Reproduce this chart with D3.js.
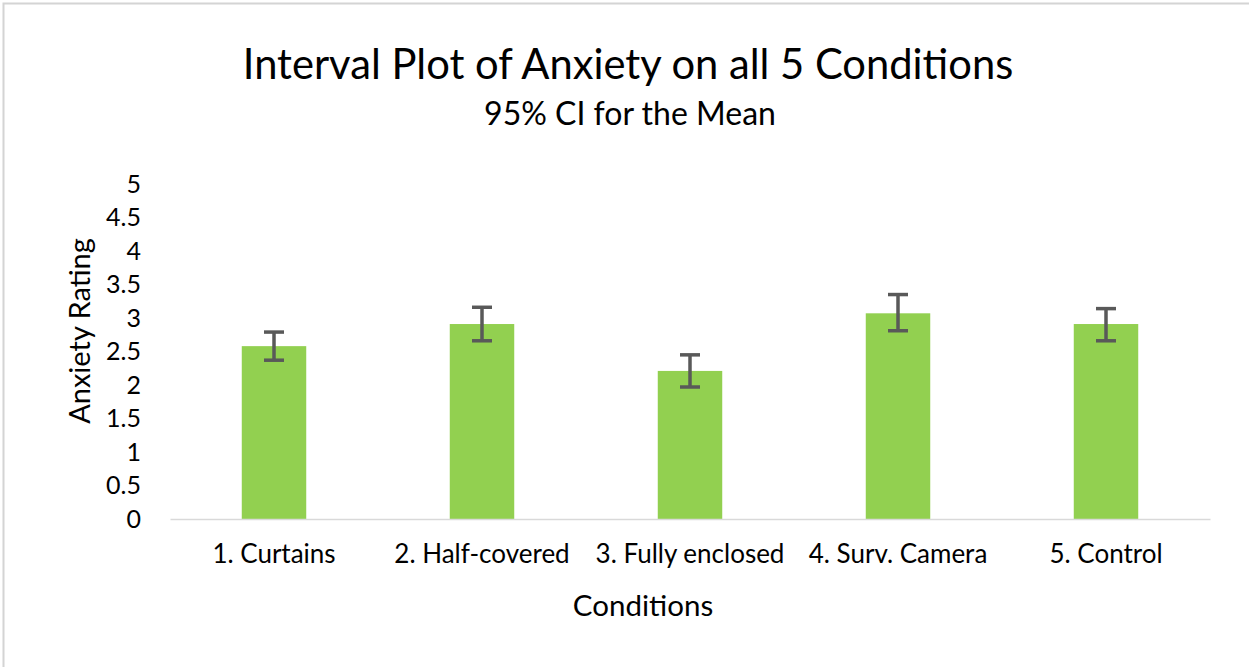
<!DOCTYPE html>
<html><head><meta charset="utf-8">
<script src="https://cdn.jsdelivr.net/npm/d3@7"></script>
<style>body{margin:0;background:#fff;}svg{display:block;font-family:Lato,"Open Sans",sans-serif;}</style>
</head><body>
<svg id="c" width="1249" height="667"></svg>
<script>
const categories = ["1. Curtains","2. Half-covered","3. Fully enclosed","4. Surv. Camera","5. Control"];
const means = [2.58, 2.91, 2.21, 3.07, 2.91];
const ciLow = [2.37, 2.66, 1.97, 2.81, 2.66];
const ciHigh = [2.79, 3.16, 2.45, 3.35, 3.14];
const yTicks = [0,0.5,1,1.5,2,2.5,3,3.5,4,4.5,5];

const FONT = "Lato,'Open Sans',sans-serif";
const svg = d3.select("#c");
svg.append("rect").attr("x",3.5).attr("y",3.5).attr("width",1260).attr("height",680)
  .attr("fill","none").attr("stroke","#d4d4d4").attr("stroke-width",2);

const x = d3.scaleBand().domain(categories).range([170,1210]).paddingInner(0.69).paddingOuter(0.345);
const y = d3.scaleLinear().domain([0,5]).range([519,184]);

svg.append("text").attr("x",628).attr("y",79).attr("text-anchor","middle")
  .attr("font-size",41.7).attr("fill","#000").text("Interval Plot of Anxiety on all 5 Conditions");
svg.append("text").attr("x",630).attr("y",125).attr("text-anchor","middle")
  .attr("font-size",32).attr("fill","#000").text("95% CI for the Mean");

const ya = svg.append("g").attr("transform","translate(141,0)")
  .call(d3.axisLeft(y).tickValues(yTicks).tickSize(0).tickPadding(0).tickFormat(d=>String(d)));
ya.select(".domain").remove();
ya.selectAll("text").attr("font-size",25).attr("fill","#000").attr("font-family",FONT);

svg.selectAll("rect.bar").data(categories).join("rect").attr("class","bar")
  .attr("x",d=>x(d)).attr("width",x.bandwidth())
  .attr("y",(d,i)=>y(means[i])).attr("height",(d,i)=>y(0)-y(means[i]))
  .attr("fill","#92d050");

const xa = svg.append("g").attr("transform","translate(0,519)")
  .call(d3.axisBottom(x).tickSize(0).tickPadding(26));
xa.select(".domain").attr("stroke","#d9d9d9").attr("stroke-width",1.5);
xa.selectAll("text").attr("font-size",26).attr("fill","#000").attr("font-family",FONT);

const eb = svg.append("g").attr("stroke","#595959").attr("stroke-width",3.5);
categories.forEach((c,i)=>{
  const cx = x(c)+x.bandwidth()/2;
  eb.append("line").attr("x1",cx).attr("x2",cx).attr("y1",y(ciLow[i])).attr("y2",y(ciHigh[i]));
  eb.append("line").attr("x1",cx-10).attr("x2",cx+10).attr("y1",y(ciLow[i])).attr("y2",y(ciLow[i]));
  eb.append("line").attr("x1",cx-10).attr("x2",cx+10).attr("y1",y(ciHigh[i])).attr("y2",y(ciHigh[i]));
});

svg.append("text").attr("x",643).attr("y",616).attr("text-anchor","middle")
  .attr("font-size",29.5).attr("fill","#000").text("Conditions");
svg.append("text").attr("transform","translate(90,331) rotate(-90)").attr("text-anchor","middle")
  .attr("font-size",29).attr("fill","#000").text("Anxiety Rating");
</script>
</body></html>
